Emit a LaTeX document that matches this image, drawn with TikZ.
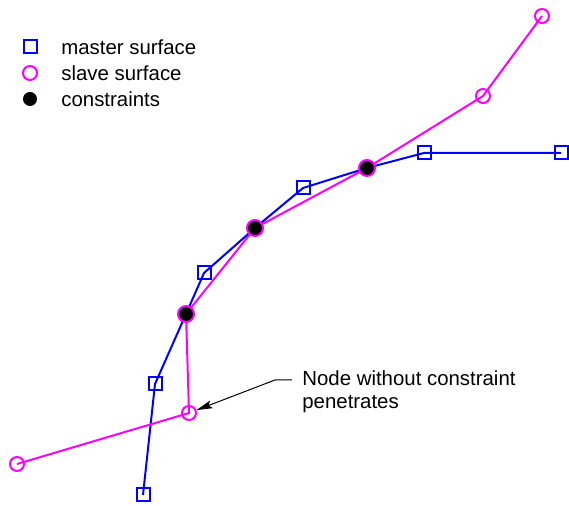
\documentclass[tikz,border=0pt]{standalone}
\usepackage{fontspec}
\setmainfont{Liberation Sans}
\usetikzlibrary{arrows.meta,backgrounds,positioning}

\definecolor{masterblue}{RGB}{0,0,255}
\definecolor{slavemag}{RGB}{255,0,255}

\begin{document}
\begin{tikzpicture}[
    x=0.5pt, y=-0.5pt,
    font=\fontsize{10.2}{11.5}\selectfont,
    master/.style={
        draw=masterblue,
        rectangle,
        line width=1pt,
        minimum size=6.5pt,
        inner sep=0pt
    },
    slave/.style={
        draw=slavemag,
        circle,
        line width=1pt,
        minimum size=7pt,
        inner sep=0pt
    },
    constr/.style={
        draw=slavemag,
        fill=black,
        circle,
        line width=1pt,
        minimum size=8pt,
        inner sep=0pt
    },
    keydot/.style={
        fill=black,
        circle,
        minimum size=7pt,
        inner sep=0pt
    },
    masterline/.style={
        draw=masterblue,
        line width=1pt
    },
    slaveline/.style={
        draw=slavemag,
        line width=1pt
    },
    label/.style={
        anchor=west,
        inner sep=0pt,
        align=left
    },
    pointer/.style={
        -{Stealth[length=8pt,width=4pt,inset=1.5pt]},
        line width=0.5pt
    }
]
\useasboundingbox (0,0) rectangle (569,506);

% Legend
\node[master] (keym) at (30,47) {};
\node[slave] (keys) at (30,73) {};
\node[keydot] (keyc) at (30,99) {};
\node[label] (txtm) at (61,47) {master surface};
\node[label] (txts) at (61,73) {slave surface};
\node[label] (txtc) at (61,99) {constraints};

% Constraints (shared nodes)
\node[constr] (c1) at (186,314) {};
\node[constr] (c2) at (255,228) {};
\node[constr] (c3) at (367,168) {};

% Master surface
\node[master] (m1) at (143,495) {};
\node[master] (m2) at (155,384) {};
\node[master] (m3) at (204,273) {};
\node[master] (m4) at (303,188) {};
\node[master] (m5) at (424,153) {};
\node[master] (m6) at (561,153) {};

% Slave surface
\node[slave] (s1) at (17,464) {};
\node[slave] (s2) at (189,413) {};
\node[slave] (s3) at (483,96) {};
\node[slave] (s4) at (542,16) {};

% Surface lines behind the markers
\begin{scope}[on background layer]
\draw[masterline] (m1.center) -- (m2.center) -- (c1.center) -- (m3.center)
    -- (c2.center) -- (m4.center) -- (c3.center) -- (m5.center) -- (m6.center);
\draw[slaveline] (s1.center) -- (s2.center) -- (c1.center) -- (c2.center)
    -- (c3.center) -- (s3.center) -- (s4.center);
\end{scope}

% Annotation
\node[label] (note) at (302,392) {Node without constraint\\penetrates};
\coordinate (tail) at (292,380);
\coordinate (bend) at (275,380);
\draw[pointer] (tail) -- (bend) -- (s2);

\end{tikzpicture}
\end{document}
